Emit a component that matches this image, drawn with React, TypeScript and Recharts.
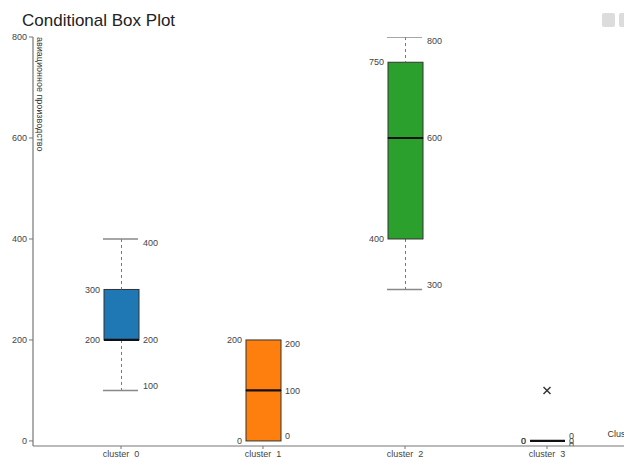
import { Bar, ComposedChart, Scatter, XAxis, YAxis } from 'recharts';

const clusters = ['cluster_0', 'cluster_1', 'cluster_2', 'cluster_3'];
const mins = [100, 0, 300, 0];
const q1s = [200, 0, 400, 0];
const medians = [200, 100, 600, 0];
const q3s = [300, 200, 750, 0];
const maxs = [400, 200, 800, 0];
const outliers: (number | null)[] = [null, null, null, 100];
const boxColors = ['#1f77b4', '#ff7f0e', '#2ca02c', '#d62728'];
const yTicks = [0, 200, 400, 600, 800];

const FONT = '"Liberation Sans", Arial, sans-serif';
const LABEL_FILL = '#444';

const rows = clusters.map((name, i) => ({
  name,
  idx: i,
  min: mins[i],
  q1: q1s[i],
  median: medians[i],
  q3: q3s[i],
  max: maxs[i],
  base: mins[i],
  lowWhisker: q1s[i] - mins[i],
  lowBox: medians[i] - q1s[i],
  highBox: q3s[i] - medians[i],
  highWhisker: maxs[i] - q3s[i],
  outlier: outliers[i],
}));

const txt = { fontSize: 9, fill: LABEL_FILL, fontFamily: FONT } as const;

function Hidden() {
  return <g />;
}

// lower whisker: dashed stem + cap at the minimum
function LowWhisker(p: any) {
  const { x, y, width, height, payload } = p;
  const cx = x + width / 2;
  const bottom = y + height;
  return (
    <g>
      {height > 0 && (
        <>
          <line x1={cx} x2={cx} y1={y} y2={bottom} stroke="#777" strokeDasharray="3 3" />
          <line x1={x - 1} x2={x + width - 1} y1={bottom} y2={bottom} stroke="#888" strokeWidth={1.5} />
        </>
      )}
      <text x={x + width + 4} y={bottom - 5} dy="0.35em" {...txt}>{payload.min}</text>
    </g>
  );
}

function LowBox(p: any) {
  const { x, y, width, height, payload } = p;
  return (
    <g>
      <rect x={x} y={y} width={width} height={height} fill={boxColors[payload.idx]} stroke="#333" strokeWidth={1} />
      <text x={x - 4} y={y + height} dy="0.35em" textAnchor="end" {...txt}>{payload.q1}</text>
    </g>
  );
}

// upper box half, plus the median line at its bottom edge
function HighBox(p: any) {
  const { x, y, width, height, payload } = p;
  const bottom = y + height;
  return (
    <g>
      <rect x={x} y={y} width={width} height={height} fill={boxColors[payload.idx]} stroke="#333" strokeWidth={1} />
      <line x1={x} x2={x + width} y1={bottom} y2={bottom} stroke="#111" strokeWidth={2.2} />
      <text x={x - 4} y={y} dy="0.35em" textAnchor="end" {...txt}>{payload.q3}</text>
      <text x={x + width + 4} y={bottom} dy="0.35em" {...txt}>{payload.median}</text>
    </g>
  );
}

function HighWhisker(p: any) {
  const { x, y, width, height, payload } = p;
  const cx = x + width / 2;
  return (
    <g>
      {height > 0 && (
        <>
          <line x1={cx} x2={cx} y1={y} y2={y + height} stroke="#777" strokeDasharray="3 3" />
          <line x1={x - 1} x2={x + width - 1} y1={y} y2={y} stroke="#888" strokeWidth={1.5} />
        </>
      )}
      <text x={x + width + 4} y={y + 4} dy="0.35em" {...txt}>{payload.max}</text>
    </g>
  );
}

function Cross(p: any) {
  const { cx, cy, payload } = p;
  if (payload == null || payload.outlier == null || !isFinite(cx) || !isFinite(cy)) return <g />;
  const s = 3.5;
  return (
    <g stroke="#333" strokeWidth={1.4}>
      <line x1={cx - s} x2={cx + s} y1={cy - s} y2={cy + s} />
      <line x1={cx - s} x2={cx + s} y1={cy + s} y2={cy - s} />
    </g>
  );
}

function YLabel(props: any) {
  const vb = props.viewBox;
  const x = vb.x + vb.width + 4;
  const y = vb.y;
  return (
    <text x={x} y={y} transform={`rotate(90, ${x}, ${y})`} textAnchor="start" fontSize={9} fill="#333" fontFamily={FONT}>
      авиационное производство
    </text>
  );
}

function XLabel(props: any) {
  const vb = props.viewBox;
  return (
    <text x={vb.x + vb.width - 4} y={vb.y - 9} textAnchor="end" fontSize={9} fill="#333" fontFamily={FONT}>
      Cluster
    </text>
  );
}

export default function App() {
  return (
    <div
      style={{
        position: 'absolute',
        left: 0,
        top: 0,
        width: 624,
        height: 457,
        overflow: 'hidden',
        background: '#fff',
      }}
    >
      <div
        style={{
          position: 'absolute',
          left: 22,
          top: 12,
          fontFamily: FONT,
          fontSize: 17,
          lineHeight: '17px',
          color: '#222',
          whiteSpace: 'nowrap',
        }}
      >
        Conditional Box Plot
      </div>
      <div style={{ position: 'absolute', left: 602, top: 13, width: 13, height: 14, background: '#dcdcdc', borderRadius: 2 }} />
      <div style={{ position: 'absolute', left: 619, top: 13, width: 13, height: 14, background: '#dcdcdc', borderRadius: 2 }} />
      <ComposedChart
        width={650}
        height={480}
        data={rows}
        margin={{ top: 37, right: 10, bottom: 0, left: 0 }}
        style={{ position: 'absolute', left: 0, top: 0 }}
      >
        <XAxis
          dataKey="name"
          interval={0}
          padding={{ left: 17, right: 22 }}
          height={34}
          tickSize={3}
          tick={{ fontSize: 9, fill: '#444', fontFamily: FONT }}
          axisLine={{ stroke: '#777', strokeWidth: 1.2 }}
          tickLine={{ stroke: '#777' }}
          label={XLabel}
        />
        <YAxis
          type="number"
          domain={[-10, 800]}
          allowDataOverflow
          ticks={yTicks}
          width={33}
          tickSize={4}
          tickMargin={2}
          tick={{ fontSize: 9, fill: '#444', fontFamily: FONT }}
          axisLine={{ stroke: '#777', strokeWidth: 1.2 }}
          tickLine={{ stroke: '#777' }}
          label={YLabel}
        />
        <Bar dataKey="base" stackId="box" barSize={35} shape={Hidden} isAnimationActive={false} />
        <Bar dataKey="lowWhisker" stackId="box" barSize={35} shape={LowWhisker} isAnimationActive={false} />
        <Bar dataKey="lowBox" stackId="box" barSize={35} shape={LowBox} isAnimationActive={false} />
        <Bar dataKey="highBox" stackId="box" barSize={35} shape={HighBox} isAnimationActive={false} />
        <Bar dataKey="highWhisker" stackId="box" barSize={35} shape={HighWhisker} isAnimationActive={false} />
        <Scatter dataKey="outlier" shape={Cross} isAnimationActive={false} />
      </ComposedChart>
    </div>
  );
}
